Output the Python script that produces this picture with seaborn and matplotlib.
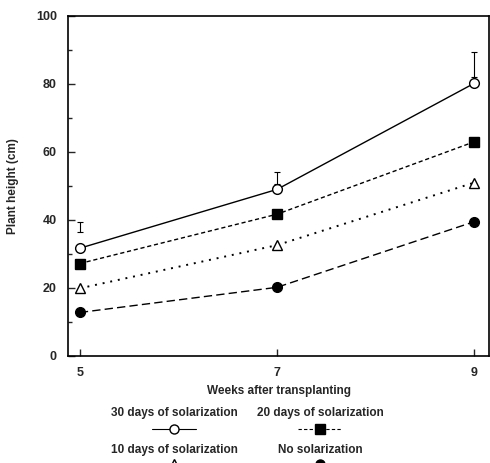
import matplotlib
matplotlib.use("Agg")
import matplotlib.pyplot as plt
from matplotlib.lines import Line2D
import seaborn as sns
import pandas as pd
import numpy as np

weeks = [5, 7, 9]
series_names = ["30 days of solarization", "20 days of solarization",
                "10 days of solarization", "No solarization"]
sol30 = [31.7, 49.0, 80.2]
sol20 = [27.2, 41.7, 63.0]
sol10 = [19.9, 32.6, 51.0]
sol0 = [12.8, 20.2, 39.5]
err_low = [36.5, 50.5, 82.0]
err_high = [39.5, 54.0, 89.5]
y_ticks = [0, 20, 40, 60, 80, 100]

sns.set_style("ticks")
plt.rcParams['font.family'] = ['Liberation Sans', 'DejaVu Sans']
plt.rcParams['font.weight'] = 'bold'

fig = plt.figure(figsize=(4.9, 4.63), dpi=100)
ax = fig.add_axes([68/490, 1-356/463, (489-68)/490, (356-16)/463])

styles = [
    dict(marker='o', mfc='white', dashes=None, lw=1.0),
    dict(marker='s', mfc='black', dashes=(3, 2), lw=1.0),
    dict(marker='^', mfc='white', dashes=(1, 3), lw=1.4),
    dict(marker='o', mfc='black', dashes=(6, 3), lw=1.0),
]
values = [sol30, sol20, sol10, sol0]
handles = []
for name, vals, st in zip(series_names, values, styles):
    df = pd.DataFrame({"week": weeks, "height": vals})
    kw = dict(color='black', lw=st['lw'], marker=st['marker'], markersize=7,
              markerfacecolor=st['mfc'], markeredgecolor='black', markeredgewidth=1.0)
    if st['dashes'] is not None:
        kw['dashes'] = st['dashes']
    sns.lineplot(data=df, x="week", y="height", ax=ax, **kw)
    handles.append(st)

mid = [(a + b) / 2 for a, b in zip(err_low, err_high)]
half = [(b - a) / 2 for a, b in zip(err_low, err_high)]
ax.errorbar(weeks, mid, yerr=half, fmt='none', ecolor='black', elinewidth=0.8, capsize=2.5, capthick=0.8)

ax.set_xlim(4.88, 9.15)
ax.set_ylim(0, 100)
ax.set_xticks(weeks)
ax.set_xticklabels([str(w) for w in weeks])
ax.set_yticks(y_ticks)
ax.set_yticks([10, 30, 50, 70, 90], minor=True)
ax.tick_params(axis='both', direction='in', length=5, width=1, labelsize=9, pad=8)
ax.tick_params(axis='y', which='minor', direction='in', length=3, width=1)
for lab in ax.get_xticklabels() + ax.get_yticklabels():
    lab.set_fontweight('bold')
for s in ax.spines.values():
    s.set_linewidth(1.2)
    s.set_color('black')
ax.set_xlabel("Weeks after transplanting", fontsize=8.5, fontweight='bold', labelpad=4)
ax.set_ylabel("Plant height (cm)", fontsize=8.5, fontweight='bold', labelpad=12)
if ax.get_legend():
    ax.get_legend().remove()

# legend: label above the sample line
cols = [174, 320]
rows = [(413, 429), (450, 464)]
for i, (name, st) in enumerate(zip(series_names, handles)):
    cx = cols[i % 2]
    ty, ly = rows[i // 2]
    fig.text(cx / 490, 1 - ty / 463, name, ha='center', va='center', fontsize=8.5, fontweight='bold')
    ln = Line2D([(cx - 22) / 490, (cx + 22) / 490], [1 - ly / 463, 1 - ly / 463],
                transform=fig.transFigure, color='black', lw=0.8)
    if st['dashes'] is not None:
        ln.set_dashes(st['dashes'])
    fig.add_artist(ln)
    mk = Line2D([cx / 490], [1 - ly / 463], transform=fig.transFigure, ls='none',
                marker=st['marker'], markersize=6.5, markerfacecolor=st['mfc'],
                markeredgecolor='black', markeredgewidth=1.0)
    fig.add_artist(mk)

fig.savefig("out.png", dpi=100)
